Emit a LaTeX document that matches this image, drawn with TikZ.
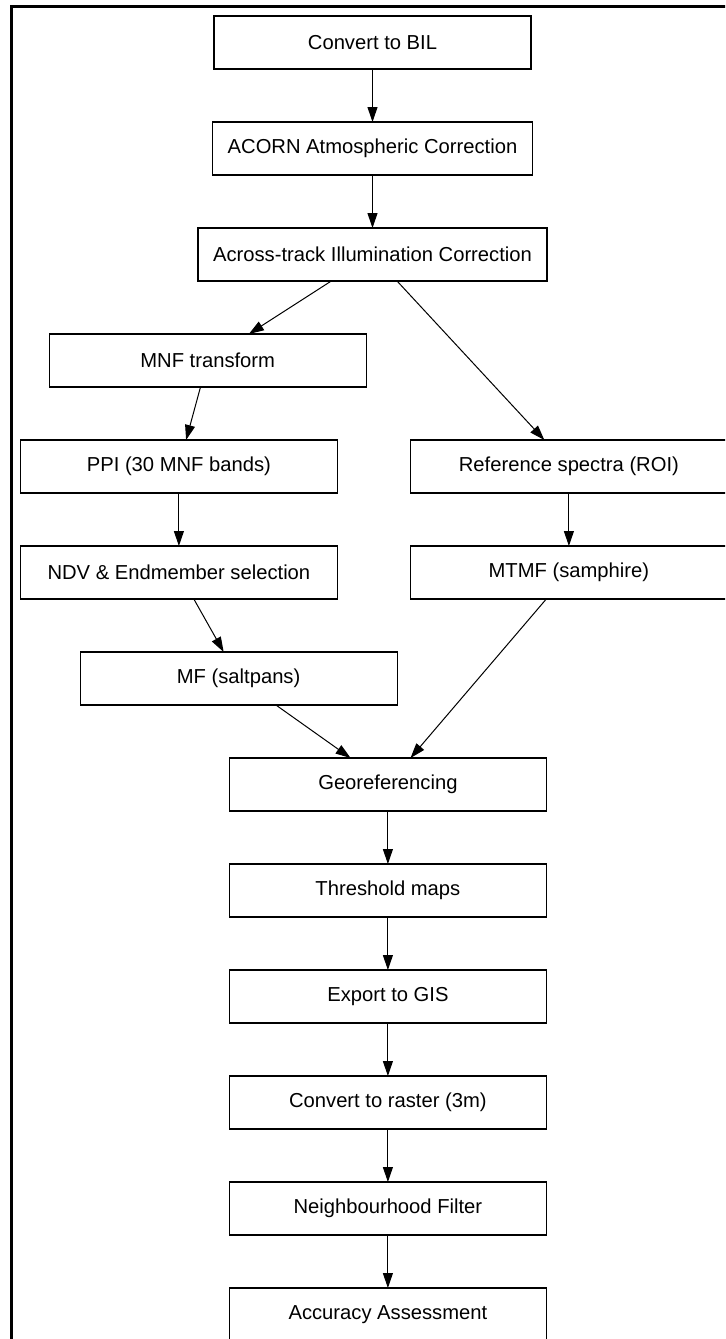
\documentclass[tikz,border=0pt]{standalone}
\usepackage{fontspec}
\setmainfont{Liberation Sans}
\usetikzlibrary{arrows.meta,positioning}

\begin{document}
\begin{tikzpicture}[
  node distance = 26.5pt and 36.5pt,
  %% ── processing step box ───────────────────────────────────────────────
  P/.style={
    draw=black, fill=white, line width=0.6pt, outer sep=0pt,
    minimum width=158.5pt, minimum height=26.5pt,
    inner xsep=7.5pt, align=center,
    font=\fontsize{10.1}{12}\selectfont
  },
  %% ── flow arrow ────────────────────────────────────────────────────────
  A/.style={-{Triangle[length=7.5pt,width=5pt]}, line width=0.5pt},
  %% ── page frame ────────────────────────────────────────────────────────
  F/.style={line width=1.5pt},
]

\clip (0,0) rectangle (362.5pt,-669.5pt);

%% ═══════════════════════════════════════════════════════════════════════
%%  PRE-PROCESSING  (top → bottom)
%% ═══════════════════════════════════════════════════════════════════════

\node[P] (bil) at (186.25pt,-21.25pt) {Convert to BIL};
\node[P, below=of bil]   (acorn) {ACORN Atmospheric Correction};
\node[P, below=of acorn] (atic)  {Across-track Illumination Correction};

%% ═══════════════════════════════════════════════════════════════════════
%%  TWO BRANCHES
%% ═══════════════════════════════════════════════════════════════════════

%% Endmember branch (left)
\node[P, below=of atic, xshift=-82.4pt]  (mnf) {MNF transform};
\node[P, below=of mnf,  xshift=-14.4pt]  (ppi) {PPI (30 MNF bands)};
\node[P, below=of ppi]                   (ndv) {NDV \& Endmember selection};
\node[P, below=of ndv,  xshift=29.85pt]  (mf)  {MF (saltpans)};

%% Reference branch (right)
\node[P, right=of ppi] (ref)  {Reference spectra (ROI)};
\node[P, below=of ref] (mtmf) {MTMF (samphire)};

%% ═══════════════════════════════════════════════════════════════════════
%%  POST-PROCESSING
%% ═══════════════════════════════════════════════════════════════════════

\node[P, below=of mf, xshift=74.65pt] (geo)    {Georeferencing};
\node[P, below=of geo]                (thr)    {Threshold maps};
\node[P, below=of thr]                (gis)    {Export to GIS};
\node[P, below=of gis]                (raster) {Convert to raster (3m)};
\node[P, below=of raster]             (nbh)    {Neighbourhood Filter};
\node[P, below=of nbh]                (acc)    {Accuracy Assessment};

%% ═══════════════════════════════════════════════════════════════════════
%%  ARROWS
%% ═══════════════════════════════════════════════════════════════════════

\draw[A] (bil)   -- (acorn);
\draw[A] (acorn) -- (atic);
\draw[A] (atic)  -- (mnf);
\draw[A] (atic)  -- (ref);
\draw[A] (mnf)   -- (ppi);
\draw[A] (ppi)   -- (ndv);
\draw[A] (ndv)   -- (mf);
\draw[A] (ref)   -- (mtmf);
\draw[A] (mf)    -- (geo);
\draw[A] (mtmf)  -- (geo);
\draw[A] (geo)   -- (thr);
\draw[A] (thr)   -- (gis);
\draw[A] (gis)   -- (raster);
\draw[A] (raster)-- (nbh);
\draw[A] (nbh)   -- (acc);

%% ── frame (cut at right and bottom) ───────────────────────────────────
\draw[F] (5.5pt,-700pt) |- (400pt,-3.25pt);

\end{tikzpicture}
\end{document}
